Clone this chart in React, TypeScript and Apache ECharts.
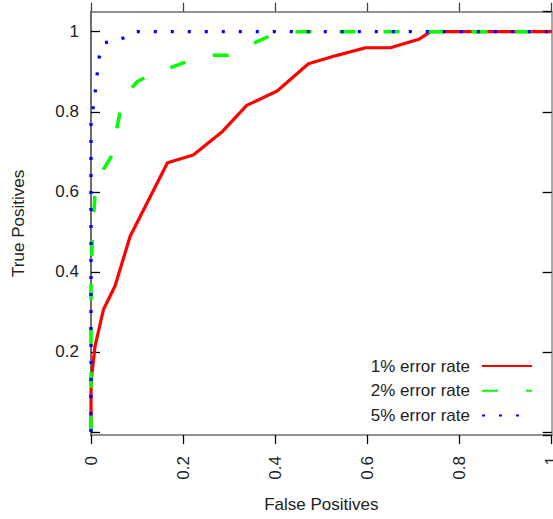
import React, { useEffect, useRef } from "react";
import * as echarts from "echarts";

const seriesNames = ["1% error rate", "2% error rate", "5% error rate"];

const fpr1 = [0, 0, 0.0015, 0.0087, 0.027, 0.052, 0.085, 0.166, 0.222, 0.286, 0.338, 0.404, 0.472, 0.534, 0.596, 0.65, 0.7115, 0.737, 1];
const tpr1 = [0, 0.1, 0.139, 0.214, 0.306, 0.364, 0.489, 0.6725, 0.692, 0.7515, 0.816, 0.852, 0.92, 0.941, 0.96, 0.96, 0.981, 1, 1];

const fpr2 = [0, 0, 0.003, 0.009, 0.027, 0.045, 0.063, 0.085, 0.1, 0.12, 0.2, 0.266, 0.298, 0.35, 0.385, 0.41, 1];
const tpr2 = [0, 0.36, 0.49, 0.6, 0.656, 0.69, 0.8, 0.855, 0.875, 0.887, 0.922, 0.941, 0.941, 0.97, 0.9875, 1, 1];

const fpr5 = [0, 0, 0.004, 0.009, 0.013, 0.0174, 0.0304, 0.0646, 0.0957, 1];
const tpr5 = [0, 0.78, 0.806, 0.848, 0.89, 0.935, 0.9725, 0.981, 1, 1];

const xTicks = [0, 0.2, 0.4, 0.6, 0.8, 1];
const yTicks = [0.2, 0.4, 0.6, 0.8, 1];

const FONT = "'Liberation Sans', Arial, Helvetica, sans-serif";

export default function App() {
  const ref = useRef<HTMLDivElement>(null);
  useEffect(() => {
    if (!ref.current) return;
    const chart = echarts.init(ref.current, null, { renderer: "svg" });
    const zip = (xs: number[], ys: number[]) => xs.map((x, i) => [x, ys[i]]);
    const gray = "#6e6e6e";
    const textColor = "#222";
    const isTick = (list: number[], v: number) => list.some((t) => Math.abs(t - v) < 1e-6);
    const option: any = {
      animation: false,
      grid: { left: 91, right: 1.3, top: 11.7, bottom: 84, containLabel: false, outerBoundsMode: "none" },
      legend: {
        orient: "vertical",
        right: 20,
        top: 357.5,
        padding: 0,
        align: "right",
        itemWidth: 50,
        itemHeight: 14,
        itemGap: 7.8,
        data: seriesNames,
        itemStyle: { opacity: 0 },
        textStyle: { fontSize: 17, color: textColor, fontFamily: FONT, padding: [0, 7, 0, 0] },
      },
      xAxis: [
        {
          type: "value",
          min: 0,
          max: 1,
          interval: 0.2,
          position: "bottom",
          name: "False Positives",
          nameLocation: "middle",
          nameGap: 61,
          nameTextStyle: { fontSize: 17, color: textColor, fontFamily: FONT, verticalAlign: "top" },
          axisLine: { show: true, onZero: false, lineStyle: { color: gray, width: 1.7 } },
          axisTick: { show: true, inside: false, length: 9, lineStyle: { color: "#000", width: 1.3 } },
          axisLabel: {
            rotate: 90,
            margin: 21,
            fontSize: 17,
            color: textColor,
            fontFamily: FONT,
            formatter: (v: number) => (isTick(xTicks, v) ? String(+v.toFixed(2)) : ""),
          },
          splitLine: { show: false },
        },
        {
          type: "value",
          min: 0,
          max: 1,
          interval: 0.2,
          position: "top",
          axisLine: { show: true, onZero: false, lineStyle: { color: gray, width: 1.7 } },
          axisTick: { show: true, inside: false, length: 9, lineStyle: { color: "#444", width: 1.3 } },
          axisLabel: { show: false },
          splitLine: { show: false },
        },
      ],
      yAxis: [
        {
          type: "value",
          min: -0.0075,
          max: 1.05,
          splitNumber: 5,
          minInterval: 0.2,
          maxInterval: 0.2,
          position: "left",
          name: "True Positives",
          nameLocation: "middle",
          nameGap: 64,
          nameTextStyle: { fontSize: 17, color: textColor, fontFamily: FONT },
          axisLine: { show: true, onZero: false, lineStyle: { color: gray, width: 2 } },
          axisTick: { show: true, inside: true, length: 9, lineStyle: { color: "#000", width: 1.3 } },
          axisLabel: {
            margin: 12,
            fontSize: 17,
            color: textColor,
            fontFamily: FONT,
            showMinLabel: false,
            showMaxLabel: false,
            formatter: (v: number) => (isTick(yTicks, v) ? String(+v.toFixed(2)) : ""),
          },
          splitLine: { show: false },
        },
        {
          type: "value",
          min: -0.0075,
          max: 1.05,
          splitNumber: 5,
          minInterval: 0.2,
          maxInterval: 0.2,
          position: "right",
          axisLine: { show: true, onZero: false, lineStyle: { color: "#999", width: 1.7 } },
          axisTick: { show: true, inside: true, length: 9, lineStyle: { color: "#000", width: 1.3 } },
          axisLabel: { show: false },
          splitLine: { show: false },
        },
      ],
      series: [
        {
          name: seriesNames[0],
          type: "line",
          data: zip(fpr1, tpr1),
          symbol: "none",
          clip: false,
          color: "#ff0000",
          lineStyle: { color: "#ff0000", width: 3.2, type: "solid" },
        },
        {
          name: seriesNames[1],
          type: "line",
          data: zip(fpr2, tpr2),
          symbol: "none",
          clip: false,
          color: "#00ff00",
          lineStyle: { color: "#00ff00", width: 3.5, type: [16, 28], cap: "butt" },
        },
        {
          name: seriesNames[2],
          type: "line",
          data: zip(fpr5, tpr5),
          symbol: "none",
          clip: false,
          color: "#0000ff",
          lineStyle: { color: "#0000ff", width: 3.3, type: [3, 14], cap: "butt" },
        },
      ],
    };
    chart.setOption(option);
    return () => chart.dispose();
  }, []);
  return <div ref={ref} style={{ width: 553, height: 519, position: "absolute", left: 0, top: 0 }} />;
}
